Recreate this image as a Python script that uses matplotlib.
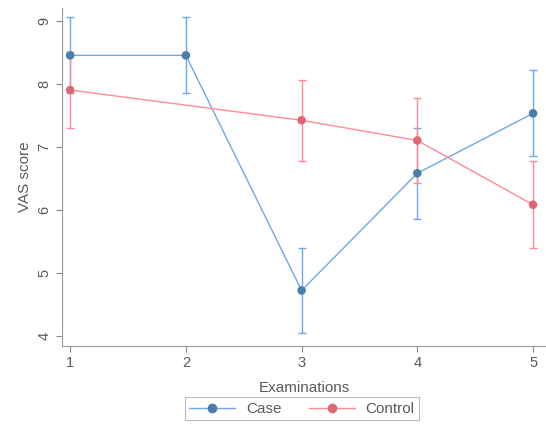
import matplotlib
matplotlib.use("Agg")
import matplotlib.pyplot as plt
from matplotlib.lines import Line2D

exams = [1, 2, 3, 4, 5]
case_mean = [8.45, 8.45, 4.72, 6.58, 7.53]
case_lo = [7.85, 7.85, 4.05, 5.86, 6.86]
case_hi = [9.06, 9.06, 5.40, 7.30, 8.21]

ctrl_x = [1, 3, 4, 5]
ctrl_mean = [7.90, 7.42, 7.10, 6.08]
ctrl_lo = [7.30, 6.78, 6.42, 5.39]
ctrl_hi = [8.50, 8.06, 7.78, 6.78]

yticks = [4, 5, 6, 7, 8, 9]

plt.rcParams['font.family'] = ['Liberation Sans', 'DejaVu Sans']
txt = '#5a5a5a'
case_line = '#6fa8e8'
case_mark = '#4b7daa'
ctrl_line = '#ff8a96'
ctrl_mark = '#e06774'

fig = plt.figure(figsize=(5.46, 4.26), dpi=100)
ax = fig.add_axes([0.1136, 0.188, 0.886, 0.793])

ax.errorbar(exams, case_mean,
            yerr=[[m - l for m, l in zip(case_mean, case_lo)],
                  [h - m for m, h in zip(case_mean, case_hi)]],
            fmt='none', ecolor=case_line, elinewidth=1, capsize=3, capthick=1, zorder=2)
ax.errorbar(ctrl_x, ctrl_mean,
            yerr=[[m - l for m, l in zip(ctrl_mean, ctrl_lo)],
                  [h - m for m, h in zip(ctrl_mean, ctrl_hi)]],
            fmt='none', ecolor=ctrl_line, elinewidth=1, capsize=3, capthick=1, zorder=2)
ax.plot(exams, case_mean, color=case_line, lw=1, zorder=3)
ax.plot(ctrl_x, ctrl_mean, color=ctrl_line, lw=1, zorder=3)
ax.scatter(exams, case_mean, s=38, color=case_mark, zorder=4, edgecolors='none')
ax.scatter(ctrl_x, ctrl_mean, s=38, color=ctrl_mark, zorder=4, edgecolors='none')

ax.set_xlim(0.93, 5.11)
ax.set_ylim(3.84, 9.2)
ax.set_xticks(exams)
ax.set_yticks(yticks)
ax.set_yticklabels([str(v) for v in yticks], rotation=90, va='center')
ax.tick_params(colors='#888888', labelcolor=txt, labelsize=10.5, length=4, width=0.8)
for s in ['top', 'right']:
    ax.spines[s].set_visible(False)
for s in ['left', 'bottom']:
    ax.spines[s].set_color('#999999')
    ax.spines[s].set_linewidth(0.8)

ax.set_ylabel('VAS score', color=txt, fontsize=11, labelpad=4)
ax.set_xlabel('Examinations', color=txt, fontsize=11, labelpad=8)

handles = [Line2D([0], [0], color=case_line, lw=1, marker='o', markersize=6,
                  markerfacecolor=case_mark, markeredgecolor=case_mark),
           Line2D([0], [0], color=ctrl_line, lw=1, marker='o', markersize=6,
                  markerfacecolor=ctrl_mark, markeredgecolor=ctrl_mark)]
leg = fig.legend(handles, ['Case', 'Control'], ncol=2, loc='lower center',
                 bbox_to_anchor=(0.553, -0.005), frameon=True, fancybox=False,
                 edgecolor='#aaaaaa', fontsize=11, handlelength=3.0,
                 columnspacing=1.8, borderpad=0.3, handletextpad=0.7)
for t in leg.get_texts():
    t.set_color(txt)
leg.get_frame().set_linewidth(0.8)

fig.savefig('out.png', dpi=100)
